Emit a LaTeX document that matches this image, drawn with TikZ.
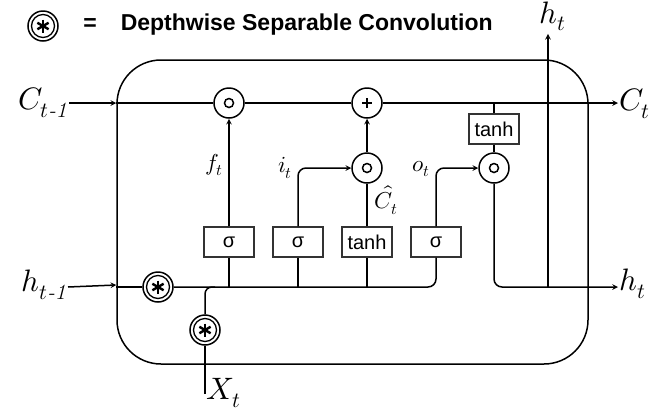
\documentclass[tikz,border=0pt]{standalone}
\usepackage{amsmath}
\usepackage{fontspec}
\usepackage{unicode-math}
\setmathfont{Latin Modern Math}
\setsansfont{Liberation Sans}
\begin{document}
\begin{tikzpicture}[>=stealth,x=1pt,y=-1pt,line width=1.5pt,
	cell/.style={draw,rounded corners=44pt,minimum width=471pt,minimum height=304pt},
	gate/.style={draw=black!80,line width=1.3pt,fill=white,minimum width=50pt,minimum height=30pt,inner sep=0pt,font=\sffamily\fontsize{20}{24}\selectfont},
	op/.style={draw,circle,fill=white,minimum size=30pt,inner sep=0pt},
	had/.style={op,path picture={\draw[line width=1.5pt] (path picture bounding box.center) circle (4.5pt);}},
	add/.style={op,path picture={\draw[line width=2pt] ([xshift=-5pt]path picture bounding box.center) -- ([xshift=5pt]path picture bounding box.center)
		([yshift=-5pt]path picture bounding box.center) -- ([yshift=5pt]path picture bounding box.center);}},
	dconv/.style={op,path picture={\draw[line width=1.3pt] (path picture bounding box.center) circle (11.5pt);
		\foreach \a in {90,30,150} \draw[line width=2.4pt] ([shift={(\a:6.5pt)}]path picture bounding box.center) -- ([shift={(\a+180:6.5pt)}]path picture bounding box.center);}},
	lbl/.style={inner sep=1pt,font=\fontsize{31}{34}\selectfont},
	sml/.style={inner sep=1pt,font=\fontsize{23}{26}\selectfont}]
	\useasboundingbox (0,0) rectangle (651,408);
	% legend
	\node[dconv] (key) at (43,26) {};
	\node[font=\sffamily\bfseries\fontsize{23}{26}\selectfont] (eq) at (90,25) {=};
	\node[anchor=west,inner sep=0pt,font=\sffamily\bfseries\fontsize{23}{26}\selectfont] (title) at (120,25) {Depthwise Separable Convolution};
	% cell and gates
	\node[cell] (cell) at (352.5,212) {};
	\node[had] (mf) at (229,103) {};
	\node[add] (pl) at (367,103) {};
	\node[had] (mi) at (367,168) {};
	\node[had] (mo) at (494,168) {};
	\node[gate] (tt) at (494,129) {tanh};
	\node[gate] (s1) at (229,242) {σ};
	\node[gate] (s2) at (298,242) {σ};
	\node[gate] (th) at (367,242) {tanh};
	\node[gate] (s4) at (436,242) {σ};
	\node[dconv] (dh) at (158,287) {};
	\node[dconv] (dx) at (205,330) {};
	% inputs and outputs
	\node[lbl,anchor=east] (Cin) at (69,103) {$C_{t\textit{-1}}$};
	\node[lbl,anchor=east] (hin) at (68,285) {$h_{t\textit{-1}}$};
	\node[lbl,anchor=west] (Cout) at (618,104) {$C_t$};
	\node[lbl,anchor=west] (hout) at (618,284) {$h_t$};
	\node[lbl,anchor=north,inner sep=0pt] (htop) at (553,1) {$h_t$};
	\node[lbl,anchor=north west,inner sep=0pt] (xt) at (206,378) {$X_t$};
	\coordinate (xin) at (205,394);
	\coordinate (hj) at (548,287);
	\node[sml,anchor=east] (ft) at (225,165) {$f_t$};
	\node[sml,anchor=east] (it) at (294,168) {$i_t$};
	\node[sml,anchor=west] (ct) at (373,200) {$\hat{C}_t$};
	\node[sml,anchor=east] (ot) at (432,169) {$o_t$};
	% cell state
	\draw[->] (Cin.east |- mf) -- (Cin -| cell.west);
	\draw (Cin -| cell.west) -- (mf.west) (mf.east) -- (pl.west);
	\draw[->] (pl.east) -- (Cout.west |- pl);
	\draw (tt.north |- pl) -- (tt.north) (tt.south) -- (mo.north);
	% hidden state and input
	\draw[->] (hin.east |- dh) -- (hin -| cell.west);
	\draw (dh -| cell.west) -- (dh.west);
	\draw (xin) -- (dx.south);
	\draw[rounded corners=7pt] (dx.north) -- (dx.north |- dh) -- ++(10,0);
	\draw[rounded corners=8pt] (dh.east) -- (s4.south |- dh) -- (s4.south);
	\foreach \g in {s1,s2,th}
	\draw (\g.south |- dh) -- (\g.south);
	\draw[->] (s1.north) -- (mf.south);
	\draw[->,rounded corners=8pt] (s2.north) -- (s2.north |- mi) -- (mi.west);
	\draw (th.north) -- (mi.south);
	\draw[->] (mi.north) -- (pl.south);
	\draw[->,rounded corners=8pt] (s4.north) -- (s4.north |- mo) -- (mo.west);
	\draw[->,rounded corners=8pt] (mo.south) -- (mo.south |- dh) -- (hout.west |- dh);
	\draw[->] (hj) -- ([yshift=-2pt]hj |- htop.south);
\end{tikzpicture}
\end{document}
